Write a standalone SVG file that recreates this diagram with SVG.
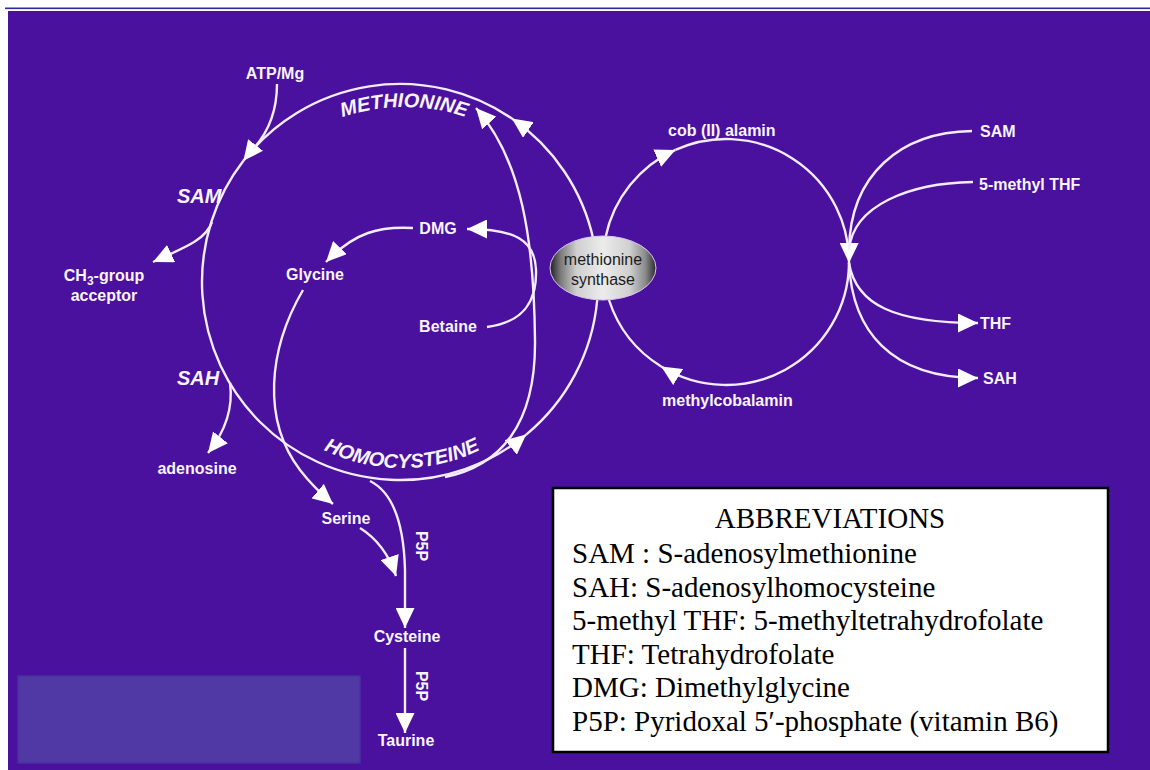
<svg xmlns="http://www.w3.org/2000/svg" width="1150" height="770" viewBox="0 0 1150 770">
<defs>
<style>
.ln{fill:none;stroke:#f3ecff;stroke-width:2.4}
.lbl{font-family:"Liberation Sans",Arial,sans-serif;font-size:16px;font-weight:bold;fill:#f8f4ff}
.big{font-family:"Liberation Sans",Arial,sans-serif;font-size:20px;font-weight:bold;font-style:italic;fill:#f8f4ff}
.ab{font-family:"Liberation Serif","Times New Roman",serif;font-size:29px;fill:#000}
.nd{font-family:"Liberation Sans",Arial,sans-serif;font-size:16px;fill:#1c1c1c}
</style>
<marker id="ah" markerUnits="userSpaceOnUse" viewBox="0 0 20 19" refX="20" refY="9.5" markerWidth="20" markerHeight="19" orient="auto">
<path d="M0,0 L20,9.5 L0,19 z" fill="#ffffff"/>
</marker>
<linearGradient id="metal" x1="0" y1="0" x2="1" y2="0">
<stop offset="0" stop-color="#1e1e1e"/>
<stop offset="0.1" stop-color="#7a7a7a"/>
<stop offset="0.25" stop-color="#cfcfcf"/>
<stop offset="0.5" stop-color="#ececec"/>
<stop offset="0.75" stop-color="#d0d0d0"/>
<stop offset="0.9" stop-color="#8a8a8a"/>
<stop offset="1" stop-color="#2a2a2a"/>
</linearGradient>
<path id="metPath" d="M 310 131.2 A 195 195 0 0 1 498 131.2"/>
<path id="hcyPath" d="M 300 435.9 A 178 178 0 0 0 504 435.9"/>
</defs>

<g id="background">
<rect x="0" y="0" width="1150" height="770" fill="#ffffff"/>
<rect x="5" y="7.5" width="1145" height="1.6" fill="#2a2a9c"/>
<rect x="8" y="11" width="1142" height="759" fill="#4a109e"/>
<rect x="18" y="676" width="342" height="87" fill="#5139a5" stroke="#4a2fa0" stroke-width="1.5"/>
</g>

<g id="connectors">
<!-- big methionine cycle -->
<path class="ln" d="M 593.5 240 A 198 198 0 0 0 511.9 118.6" marker-end="url(#ah)"/>
<path class="ln" d="M 511.9 118.6 A 198 198 0 0 0 243.4 160.8" marker-end="url(#ah)"/>
<path class="ln" d="M 243.4 160.8 A 198 198 0 0 0 260 422 A 198 198 0 0 0 526.2 434.6" marker-end="url(#ah)"/>
<path class="ln" d="M 526.2 434.6 A 198 198 0 0 0 597.2 300"/>
<!-- branches of big cycle -->
<path class="ln" d="M 277 84 C 277 108 270 130 254 148"/>
<path class="ln" d="M 212 222 C 206 240 183 248 153 262" marker-end="url(#ah)"/>
<path class="ln" d="M 230 383 C 233 405 228 428 208 453" marker-end="url(#ah)"/>
<!-- betaine / BHMT route -->
<path class="ln" d="M 445 477 C 500 466 536 425 535 340 C 534 240 522 160 476 108" marker-end="url(#ah)"/>
<path class="ln" d="M 487 327 C 525 322 537 300 536 270 C 535 240 515 229 467 229" marker-end="url(#ah)"/>
<path class="ln" d="M 413 228 C 380 226 355 232 326 262" marker-end="url(#ah)"/>
<path class="ln" d="M 303 290 C 268 350 262 420 300 470 C 310 483 320 493 333 504" marker-end="url(#ah)"/>
<!-- transsulfuration -->
<path class="ln" d="M 370 481 C 396 494 404 530 405 570 L 405 628" marker-end="url(#ah)"/>
<path class="ln" d="M 360 528 C 376 538 388 552 396 576" marker-end="url(#ah)"/>
<path class="ln" d="M 405 648 L 405 733" marker-end="url(#ah)"/>
<!-- cobalamin cycle -->
<path class="ln" d="M 605.6 237.1 A 123 123 0 0 1 675.4 149.9" marker-end="url(#ah)"/>
<path class="ln" d="M 675.4 149.9 A 123 123 0 0 1 849 263" marker-end="url(#ah)"/>
<path class="ln" d="M 849 263 A 123 123 0 0 1 661.2 366.5" marker-end="url(#ah)"/>
<path class="ln" d="M 661.2 366.5 A 123 123 0 0 1 609 300"/>
<!-- right side inputs / outputs -->
<path class="ln" d="M 972 131 C 900 132 850 175 849 250"/>
<path class="ln" d="M 973 182 C 910 183 853 205 849 250"/>
<path class="ln" d="M 849 263 C 856 305 895 323 978 323" marker-end="url(#ah)"/>
<path class="ln" d="M 849 263 C 852 330 890 378 978 378" marker-end="url(#ah)"/>
</g>

<g id="node-methionine"><text class="big"><textPath href="#metPath" startOffset="50%" text-anchor="middle">METHIONINE</textPath></text></g>
<g id="node-homocysteine"><text class="big"><textPath href="#hcyPath" startOffset="50%" text-anchor="middle">HOMOCYSTEINE</textPath></text></g>
<g id="node-sam"><text class="big" x="177" y="203">SAM</text></g>
<g id="node-sah"><text class="big" x="177" y="385">SAH</text></g>
<g id="node-atp"><text class="lbl" x="275" y="79" text-anchor="middle">ATP/Mg</text></g>
<g id="node-ch3"><text class="lbl" x="104" y="281" text-anchor="middle">CH<tspan font-size="12" dy="4">3</tspan><tspan dy="-4">-group</tspan></text>
<text class="lbl" x="104" y="301" text-anchor="middle">acceptor</text></g>
<g id="node-adenosine"><text class="lbl" x="197" y="474" text-anchor="middle">adenosine</text></g>
<g id="node-dmg"><text class="lbl" x="438" y="234" text-anchor="middle">DMG</text></g>
<g id="node-glycine"><text class="lbl" x="315" y="280" text-anchor="middle">Glycine</text></g>
<g id="node-betaine"><text class="lbl" x="448" y="332" text-anchor="middle">Betaine</text></g>
<g id="node-serine"><text class="lbl" x="346" y="524" text-anchor="middle">Serine</text></g>
<g id="node-cysteine"><text class="lbl" x="407" y="642" text-anchor="middle">Cysteine</text></g>
<g id="node-taurine"><text class="lbl" x="406" y="746" text-anchor="middle">Taurine</text></g>
<g id="node-p5p1"><text class="lbl" transform="translate(416,546) rotate(90)" text-anchor="middle">P5P</text></g>
<g id="node-p5p2"><text class="lbl" transform="translate(416,686) rotate(90)" text-anchor="middle">P5P</text></g>
<g id="node-cob"><text class="lbl" x="668" y="136">cob (II) alamin</text></g>
<g id="node-methylcob"><text class="lbl" x="662" y="406">methylcobalamin</text></g>
<g id="node-sam-r"><text class="lbl" x="980" y="137">SAM</text></g>
<g id="node-5mthf"><text class="lbl" x="979" y="190">5-methyl THF</text></g>
<g id="node-thf"><text class="lbl" x="980" y="329">THF</text></g>
<g id="node-sah-r"><text class="lbl" x="983" y="384">SAH</text></g>

<g id="node-synthase">
<ellipse cx="603" cy="268" rx="53" ry="32" fill="url(#metal)" stroke="#d8c8f0" stroke-width="1"/>
<text class="nd" x="603" y="265" text-anchor="middle">methionine</text>
<text class="nd" x="603" y="285" text-anchor="middle">synthase</text>
</g>

<g id="node-abbreviations">
<rect x="553" y="488" width="555" height="264" fill="#ffffff" stroke="#000000" stroke-width="2.5"/>
<text class="ab" x="830" y="528" text-anchor="middle">ABBREVIATIONS</text>
<text class="ab" x="572" y="563">SAM : S-adenosylmethionine</text>
<text class="ab" x="572" y="596.5">SAH: S-adenosylhomocysteine</text>
<text class="ab" x="572" y="630">5-methyl THF: 5-methyltetrahydrofolate</text>
<text class="ab" x="572" y="663.5">THF: Tetrahydrofolate</text>
<text class="ab" x="572" y="697">DMG: Dimethylglycine</text>
<text class="ab" x="572" y="730.5">P5P: Pyridoxal 5′-phosphate (vitamin B6)</text>
</g>
</svg>
